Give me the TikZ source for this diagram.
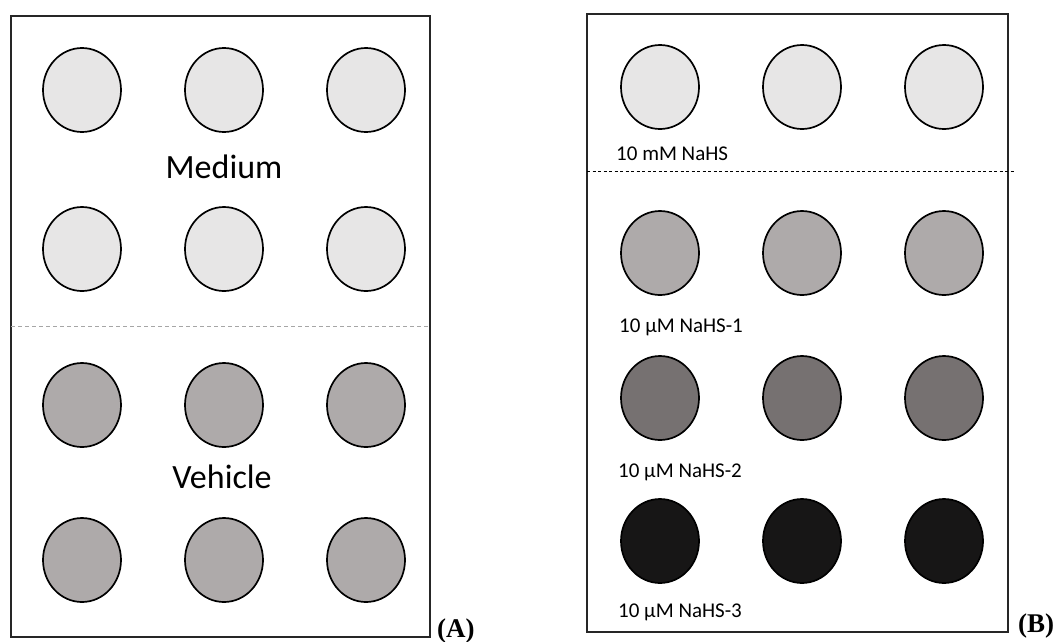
\documentclass[tikz,border=0pt]{standalone}
\usepackage{fontspec}
\setmainfont{Carlito}
\newfontfamily\panelfont{Liberation Serif}
\usetikzlibrary{shapes.geometric}

\definecolor{wellLight}{HTML}{E7E6E6}
\definecolor{wellMid}{HTML}{AEAAAA}
\definecolor{wellDark}{HTML}{767171}
\definecolor{wellBlack}{HTML}{171616}
\definecolor{frameGray}{HTML}{262626}
\definecolor{sepGray}{HTML}{A6A6A6}

\tikzset{
  well/.style={ellipse, draw=black, line width=1.7pt, inner sep=0pt,
               minimum width=78pt, minimum height=84pt},
  plate/.style={draw=frameGray, line width=1.9pt},
  bigtag/.style={font=\fontsize{34}{40}\selectfont, anchor=base, inner sep=0pt},
  smalltag/.style={font=\fontsize{21}{25}\selectfont, anchor=base west, inner sep=0pt},
  paneltag/.style={font=\panelfont\bfseries\fontsize{27}{31}\selectfont, anchor=base west, inner sep=0pt},
}

\begin{document}
\begin{tikzpicture}[x=1pt,y=-1pt]
\useasboundingbox (0,0) rectangle (1059,641);

% ---------- panel A ----------
\draw[plate] (11,16) rectangle (430,637);
\coordinate (sepAL) at (11,326);
\coordinate (sepAR) at (428,326);
\draw[sepGray, line width=0.9pt, dash pattern=on 4pt off 3pt] (sepAL) -- (sepAR);

\foreach \c/\x in {1/82,2/224,3/366}{
  \node[well, fill=wellLight] (a1\c) at (\x,90) {};
  \node[well, fill=wellLight] (a2\c) at (\x,249) {};
  \node[well, fill=wellMid]   (a3\c) at (\x,405) {};
  \node[well, fill=wellMid]   (a4\c) at (\x,560) {};
}
\node[bigtag] (medium) at (224,178) {Medium};
\node[bigtag] (vehicle) at (222,488) {Vehicle};
\node[paneltag] (tagA) at (437,637) {(A)};

% ---------- panel B ----------
\draw[plate] (587,14) rectangle (1008,632);
\coordinate (sepBL) at (587,171);
\coordinate (sepBR) at (1014,171);
\draw[black, line width=0.9pt, dash pattern=on 3.3pt off 2.2pt] (sepBL) -- (sepBR);

\foreach \c/\x in {1/660,2/802,3/944}{
  \node[well, fill=wellLight] (b1\c) at (\x,87) {};
  \node[well, fill=wellMid]   (b2\c) at (\x,253) {};
  \node[well, fill=wellDark]  (b3\c) at (\x,398) {};
  \node[well, fill=wellBlack] (b4\c) at (\x,541) {};
}
\node[smalltag] (lab1) at (616,160) {10 mM NaHS};
\node[smalltag] (lab2) at (619,332) {10 µM NaHS-1};
\node[smalltag] (lab3) at (618,477) {10 µM NaHS-2};
\node[smalltag] (lab4) at (618,617) {10 µM NaHS-3};
\node[paneltag] (tagB) at (1018,632) {(B)};
\end{tikzpicture}
\end{document}
